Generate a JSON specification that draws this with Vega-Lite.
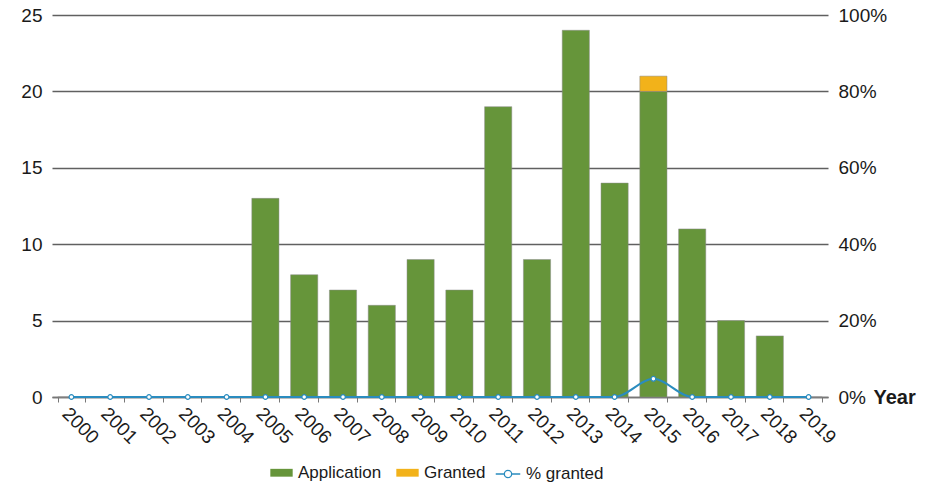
{
  "$schema": "https://vega.github.io/schema/vega-lite/v6.json",
  "width": 776,
  "height": 382,
  "autosize": {"type": "none"},
  "padding": {"left": 52, "top": 15, "right": 124, "bottom": 88},
  "background": "white",
  "config": {
    "font": "Liberation Sans",
    "view": {"stroke": null},
    "axis": {"labelColor": "#1a1a1a", "titleColor": "#1a1a1a"}
  },
  "datasets": {
    "bars": [
      {"year": "2000", "series": "Application", "count": 0},
      {"year": "2001", "series": "Application", "count": 0},
      {"year": "2002", "series": "Application", "count": 0},
      {"year": "2003", "series": "Application", "count": 0},
      {"year": "2004", "series": "Application", "count": 0},
      {"year": "2005", "series": "Application", "count": 13},
      {"year": "2006", "series": "Application", "count": 8},
      {"year": "2007", "series": "Application", "count": 7},
      {"year": "2008", "series": "Application", "count": 6},
      {"year": "2009", "series": "Application", "count": 9},
      {"year": "2010", "series": "Application", "count": 7},
      {"year": "2011", "series": "Application", "count": 19},
      {"year": "2012", "series": "Application", "count": 9},
      {"year": "2013", "series": "Application", "count": 24},
      {"year": "2014", "series": "Application", "count": 14},
      {"year": "2015", "series": "Application", "count": 20},
      {"year": "2015", "series": "Granted", "count": 1},
      {"year": "2016", "series": "Application", "count": 11},
      {"year": "2017", "series": "Application", "count": 5},
      {"year": "2018", "series": "Application", "count": 4},
      {"year": "2019", "series": "Application", "count": 0}
    ],
    "pct": [
      {"year": "2000", "pct": 0},
      {"year": "2001", "pct": 0},
      {"year": "2002", "pct": 0},
      {"year": "2003", "pct": 0},
      {"year": "2004", "pct": 0},
      {"year": "2005", "pct": 0},
      {"year": "2006", "pct": 0},
      {"year": "2007", "pct": 0},
      {"year": "2008", "pct": 0},
      {"year": "2009", "pct": 0},
      {"year": "2010", "pct": 0},
      {"year": "2011", "pct": 0},
      {"year": "2012", "pct": 0},
      {"year": "2013", "pct": 0},
      {"year": "2014", "pct": 0},
      {"year": "2015", "pct": 0.0476},
      {"year": "2016", "pct": 0},
      {"year": "2017", "pct": 0},
      {"year": "2018", "pct": 0},
      {"year": "2019", "pct": 0}
    ]
  },
  "layer": [
    {
      "data": {"name": "bars"},
      "mark": {"type": "bar", "stroke": "#8a8a8a", "strokeWidth": 0.5},
      "encoding": {
        "x": {
          "field": "year",
          "type": "ordinal",
          "scale": {"paddingInner": 0.3, "paddingOuter": 0.15},
          "axis": {
            "title": "Year",
            "titleFont": "Liberation Sans",
            "titleFontSize": 20,
            "titleFontWeight": "bold",
            "titleX": 821,
            "titleY": 0,
            "titleAlign": "left",
            "titleBaseline": "middle",
            "titleAngle": 0,
            "labelAngle": 45,
            "labelAlign": "left",
            "labelBaseline": "top",
            "labelFontSize": 19,
            "labelPadding": 2,
            "tickBand": "extent",
            "tickColor": "#777777",
            "tickSize": 5,
            "domainColor": "#777777",
            "domainWidth": 1.5,
            "grid": false
          }
        },
        "y": {
          "field": "count",
          "type": "quantitative",
          "stack": "zero",
          "scale": {"domain": [0, 25]},
          "axis": {
            "title": null,
            "values": [0, 5, 10, 15, 20, 25],
            "domain": false,
            "ticks": false,
            "labelPadding": 10,
            "labelFontSize": 19,
            "grid": true,
            "gridColor": "#606060",
            "gridWidth": 1.6
          }
        },
        "order": {"field": "series", "sort": "ascending"},
        "color": {
          "field": "series",
          "type": "nominal",
          "scale": {"domain": ["Application", "Granted"], "range": ["#66953a", "#f2b21a"]},
          "legend": {
            "title": null,
            "orient": "none",
            "direction": "horizontal",
            "legendX": 218,
            "legendY": 446,
            "symbolType": "M-1,-0.35L1,-0.35L1,0.35L-1,0.35Z",
            "symbolSize": 500,
            "symbolStrokeWidth": 0,
            "labelFontSize": 17,
            "labelColor": "#1a1a1a",
            "labelOffset": 5,
            "columnPadding": 14
          }
        }
      }
    },
    {
      "data": {"name": "pct"},
      "mark": {
        "type": "line",
        "interpolate": "monotone",
        "strokeWidth": 2,
        "point": {"filled": true, "fill": "white", "size": 22, "strokeWidth": 1.2}
      },
      "encoding": {
        "x": {"field": "year", "type": "ordinal"},
        "y": {
          "field": "pct",
          "type": "quantitative",
          "scale": {"domain": [0, 1]},
          "axis": {
            "orient": "right",
            "title": null,
            "format": ".0%",
            "values": [0, 0.2, 0.4, 0.6, 0.8, 1],
            "domain": false,
            "ticks": false,
            "grid": false,
            "labelAlign": "left",
            "labelPadding": 10,
            "labelFontSize": 19
          }
        },
        "stroke": {
          "datum": "% granted",
          "type": "nominal",
          "scale": {"range": ["#2a8cbf"]},
          "legend": {
            "title": null,
            "orient": "none",
            "legendX": 443,
            "legendY": 446,
            "symbolType": "M-1,0L-0.3,0M0.3,0L1,0M0.3,0A0.3,0.3 0 1,1 -0.3,0A0.3,0.3 0 1,1 0.3,0Z",
            "symbolSize": 600,
            "symbolFillColor": "white",
            "symbolStrokeColor": "#4aa6cf",
            "symbolStrokeWidth": 1.3,
            "labelFontSize": 17,
            "labelColor": "#1a1a1a",
            "labelOffset": 5
          }
        }
      }
    }
  ],
  "resolve": {"scale": {"y": "independent", "color": "independent", "stroke": "independent"}}
}
